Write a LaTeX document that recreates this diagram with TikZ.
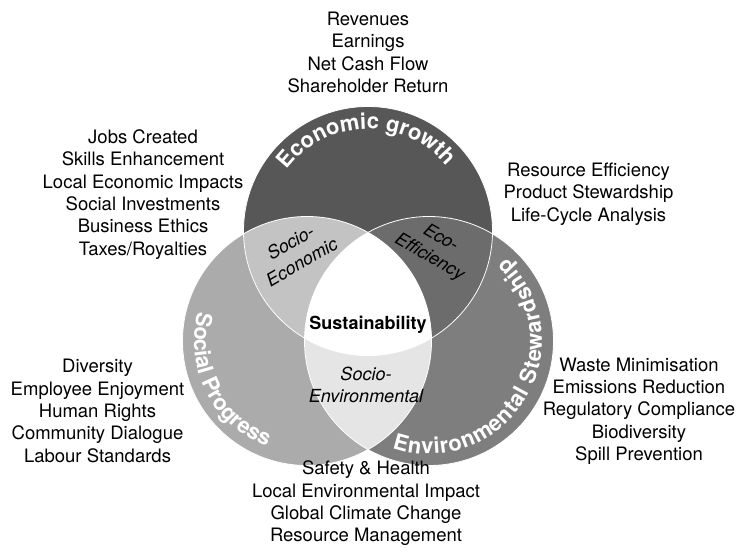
\documentclass[tikz,border=0pt]{standalone}
\usepackage{fontspec}
\setmainfont{TeX Gyre Heros}
\usetikzlibrary{decorations.text}
\definecolor{econ}{HTML}{575757}
\definecolor{envi}{HTML}{7E7E7E}
\definecolor{soci}{HTML}{ABABAB}
\definecolor{socecon}{HTML}{C3C3C3}
\definecolor{ecoeff}{HTML}{6C6C6C}
\definecolor{socenv}{HTML}{E5E5E5}
\begin{document}
\begin{tikzpicture}[x=1pt,y=1pt,
  every node/.style={inner sep=0pt},
  listtext/.style={align=center, font=\fontsize{18.5}{22.3}\selectfont},
  lenstext/.style={align=center, font=\fontsize{18}{22.3}\selectfont\itshape},
  rim/.style={draw=white, line width=0.8pt}]
\useasboundingbox (0,0) rectangle (744,-559);
\coordinate (T) at (368,-231);
\coordinate (L) at (307,-341);
\coordinate (R) at (429,-341);
\def\rr{124.5}
% circles
\fill[soci] (L) circle[radius=\rr];
\fill[envi] (R) circle[radius=\rr];
\fill[econ] (T) circle[radius=\rr];
% pairwise lenses
\begin{scope}
  \clip (L) circle[radius=\rr];
  \fill[socecon] (T) circle[radius=\rr];
\end{scope}
\begin{scope}
  \clip (R) circle[radius=\rr];
  \fill[ecoeff] (T) circle[radius=\rr];
\end{scope}
\begin{scope}
  \clip (L) circle[radius=\rr];
  \fill[socenv] (R) circle[radius=\rr];
\end{scope}
\begin{scope}
  \clip (L) circle[radius=\rr];
  \clip (R) circle[radius=\rr];
  \fill[white] (T) circle[radius=\rr];
\end{scope}
% rims
\draw[rim] (L) circle[radius=\rr];
\draw[rim] (R) circle[radius=\rr];
\draw[rim] (T) circle[radius=\rr];
% curved labels
\path[decorate, decoration={text along path, text align={fit to path},
  text={|\fontsize{22}{22}\selectfont\bfseries\color{white}|Economic growth}}]
  (T) ++(143:102) arc[start angle=143, end angle=40, radius=102];
\path[decorate, decoration={text along path, text align={fit to path},
  text={|\fontsize{22}{22}\selectfont\bfseries\color{white}|Social Progress}}]
  (L) ++(165:113) arc[start angle=165, end angle=247, radius=113];
\path[decorate, decoration={text along path, text align={fit to path},
  text={|\fontsize{22}{22}\selectfont\bfseries\color{white}|Environmental Stewardship}}]
  (R) ++(251:113) arc[start angle=251, end angle=407, radius=113];
% lens labels
\node[lenstext, rotate=30] (se) at (296,-252) {Socio-\\Economic};
\node[lenstext, rotate=-30] (ee) at (435,-248) {Eco-\\Efficiency};
\node[lenstext] (sv) at (366,-385) {Socio-\\Environmental};
\node[font=\fontsize{18}{22}\selectfont\bfseries] (sus) at (368,-325) {Sustainability};
% lists
\node[listtext] (top) at (368,-52.5) {Revenues\\Earnings\\Net Cash Flow\\Shareholder Return};
\node[listtext] (lu) at (143,-194.5) {Jobs Created\\Skills Enhancement\\Local Economic Impacts\\Social Investments\\Business Ethics\\Taxes/Royalties};
\node[listtext] (ru) at (588.5,-194) {Resource Efficiency\\Product Stewardship\\Life-Cycle Analysis};
\node[listtext] (ll) at (97.5,-411) {Diversity\\Employee Enjoyment\\Human Rights\\Community Dialogue\\Labour Standards};
\node[listtext] (rl) at (639,-411) {Waste Minimisation\\Emissions Reduction\\Regulatory Compliance\\Biodiversity\\Spill Prevention};
\node[listtext] (bot) at (366,-503.5) {Safety \& Health\\Local Environmental Impact\\Global Climate Change\\Resource Management};
\end{tikzpicture}
\end{document}
